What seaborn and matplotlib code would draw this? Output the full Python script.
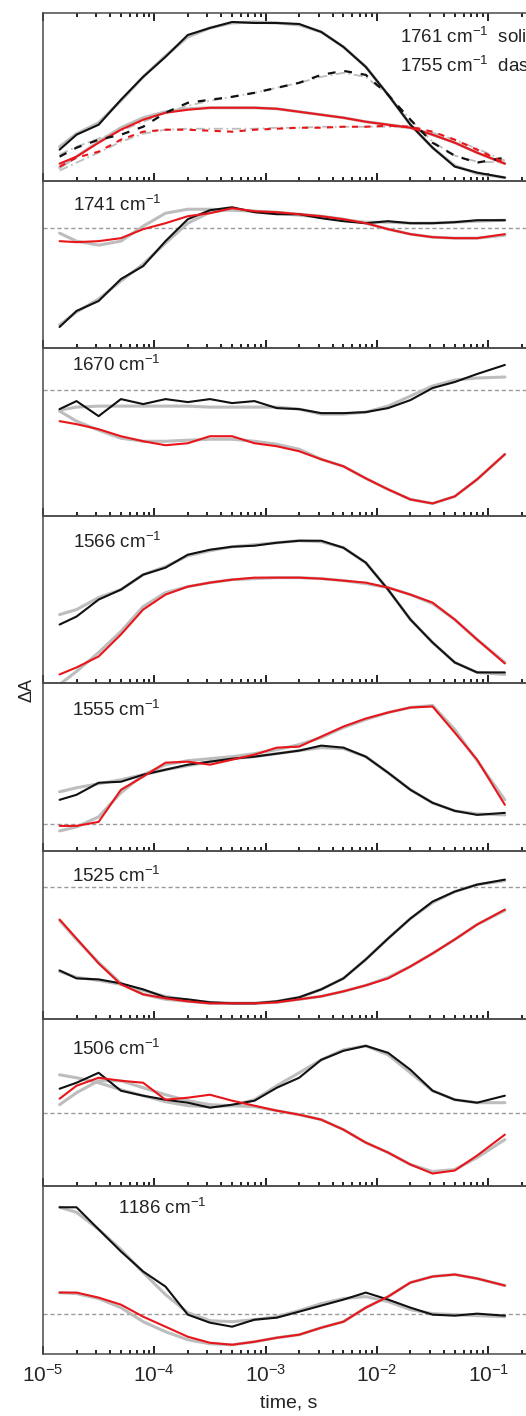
import numpy as np
import pandas as pd
import matplotlib
matplotlib.use("Agg")
import matplotlib.pyplot as plt
from matplotlib.ticker import LogLocator, NullFormatter
import seaborn as sns

# ---------------- data ----------------
TIME_S = [1.41e-5, 2.0e-5, 3.16e-5, 5.01e-5, 7.94e-5, 1.26e-4, 2.0e-4, 3.16e-4,
          5.0e-4, 7.94e-4, 1.26e-3, 2.0e-3, 3.16e-3, 5.0e-3, 7.94e-3, 1.26e-2,
          2.0e-2, 3.16e-2, 5.0e-2, 7.94e-2, 0.141]

WAVENUMBERS = ["1761", "1741", "1670", "1566", "1555", "1525", "1506", "1186"]

# panel 1 (1761 solid / 1755 dashed)
P1761_BLACK = [3.1, 4.6, 5.6, 8.1, 10.4, 12.4, 14.6, 15.3, 15.9, 15.8, 15.8, 15.7, 14.9, 13.4, 11.4, 8.6, 5.6, 3.3, 1.4, 0.8, 0.3]
P1761_BLACK_FIT = [3.4, 4.7, 5.8, 8.0, 10.4, 12.5, 14.4, 15.3, 15.8, 15.9, 15.8, 15.6, 14.9, 13.4, 11.4, 8.6, 5.6, 3.3, 1.5, 0.7, 0.3]
P1761_RED = [1.7, 2.4, 3.8, 5.1, 6.1, 6.8, 7.1, 7.3, 7.3, 7.3, 7.2, 6.9, 6.6, 6.3, 5.9, 5.6, 5.3, 4.6, 3.8, 2.8, 1.7]
P1761_RED_FIT = [1.3, 2.4, 3.9, 5.3, 6.3, 6.9, 7.2, 7.3, 7.3, 7.3, 7.2, 6.9, 6.6, 6.3, 5.9, 5.6, 5.3, 4.6, 3.8, 2.8, 1.7]
P1755_BLACK = [2.4, 3.3, 4.1, 4.6, 5.4, 6.8, 7.8, 8.1, 8.4, 8.8, 9.3, 9.8, 10.6, 11.0, 10.6, 8.6, 6.1, 3.8, 2.5, 1.8, 2.3]
P1755_BLACK_FIT = [2.6, 3.4, 4.2, 5.0, 5.9, 6.8, 7.5, 8.0, 8.4, 8.8, 9.3, 9.8, 10.4, 10.8, 10.4, 8.6, 6.1, 3.9, 2.5, 1.9, 1.8]
P1755_RED = [1.4, 2.3, 2.9, 4.1, 4.9, 5.1, 5.1, 5.0, 4.9, 5.1, 5.2, 5.3, 5.3, 5.4, 5.4, 5.5, 5.4, 4.9, 4.1, 3.1, 1.8]
P1755_RED_FIT = [1.0, 1.8, 2.8, 3.9, 4.7, 5.1, 5.2, 5.2, 5.2, 5.2, 5.3, 5.3, 5.4, 5.4, 5.4, 5.4, 5.3, 4.8, 4.1, 3.2, 2.0]

BLACK = {
    "1741": [-9.9, -8.3, -7.3, -5.1, -3.8, -1.3, 0.9, 1.8, 2.1, 1.6, 1.4, 1.4, 1.0, 0.7, 0.5, 0.7, 0.5, 0.5, 0.6, 0.8, 0.8],
    "1670": [-1.9, -1.1, -2.6, -0.9, -1.4, -0.9, -1.2, -0.9, -1.3, -1.1, -1.8, -1.9, -2.3, -2.3, -2.2, -1.8, -1.0, 0.2, 0.8, 1.6, 2.5],
    "1566": [5.9, 6.7, 8.4, 9.4, 10.9, 11.6, 12.9, 13.4, 13.7, 13.8, 14.1, 14.3, 14.3, 13.6, 12.1, 9.4, 6.4, 4.1, 2.1, 1.1, 1.1],
    "1555": [2.4, 2.9, 4.1, 4.2, 4.9, 5.4, 5.9, 6.2, 6.5, 6.7, 7.0, 7.3, 7.8, 7.6, 6.7, 5.1, 3.4, 2.1, 1.3, 0.9, 1.1],
    "1525": [-8.4, -9.2, -9.3, -9.7, -10.3, -11.1, -11.3, -11.6, -11.7, -11.7, -11.5, -11.1, -10.3, -9.2, -7.3, -5.2, -3.2, -1.5, -0.5, 0.2, 0.7],
    "1506": [2.4, 3.0, 4.0, 2.2, 1.7, 1.3, 1.0, 0.5, 0.8, 1.2, 2.5, 3.5, 5.3, 6.2, 6.7, 6.0, 4.3, 2.2, 1.3, 1.0, 1.7],
    "1186": [10.6, 10.6, 8.4, 6.2, 4.2, 2.7, -0.1, -0.9, -1.3, -0.6, -0.4, 0.2, 0.8, 1.4, 2.1, 1.4, 0.6, -0.1, -0.2, 0.0, -0.2],
}
BLACK_FIT = {
    "1741": [-9.7, -8.4, -7.1, -5.3, -3.6, -1.5, 0.5, 1.6, 1.9, 1.7, 1.5, 1.3, 1.1, 0.8, 0.6, 0.6, 0.5, 0.5, 0.6, 0.7, 0.8],
    "1670": [-2.0, -1.7, -1.6, -1.6, -1.6, -1.6, -1.6, -1.7, -1.7, -1.7, -1.7, -1.9, -2.4, -2.4, -2.2, -1.6, -0.6, 0.4, 1.0, 1.2, 1.3],
    "1566": [6.9, 7.4, 8.6, 9.4, 10.9, 11.7, 12.8, 13.3, 13.7, 13.9, 14.1, 14.3, 14.2, 13.6, 12.1, 9.4, 6.4, 4.1, 2.1, 1.1, 0.9],
    "1555": [3.2, 3.6, 4.0, 4.4, 4.9, 5.4, 5.8, 6.2, 6.5, 6.7, 7.0, 7.3, 7.6, 7.5, 6.7, 5.1, 3.4, 2.1, 1.3, 1.0, 0.9],
    "1525": [-8.5, -9.1, -9.4, -9.8, -10.4, -11.0, -11.4, -11.6, -11.7, -11.7, -11.5, -11.1, -10.3, -9.2, -7.3, -5.2, -3.2, -1.6, -0.5, 0.2, 0.6],
    "1506": [3.8, 3.5, 3.0, 2.3, 1.7, 1.1, 0.7, 0.6, 0.7, 1.3, 2.7, 4.0, 5.3, 6.3, 6.7, 5.8, 4.0, 2.2, 1.3, 1.0, 1.0],
    "1186": [10.6, 10.1, 8.4, 6.4, 4.1, 1.9, 0.1, -0.7, -0.8, -0.6, -0.3, 0.3, 1.0, 1.5, 1.7, 1.2, 0.4, 0.0, -0.1, -0.2, -0.3],
}
RED = {
    "1741": [-1.3, -1.4, -1.3, -1.0, -0.1, 0.5, 1.2, 1.5, 2.0, 1.7, 1.6, 1.4, 1.2, 0.9, 0.5, -0.1, -0.6, -0.9, -1.0, -1.0, -0.6],
    "1670": [-3.1, -3.4, -3.9, -4.6, -5.1, -5.5, -5.3, -4.6, -4.6, -5.3, -5.6, -6.1, -6.9, -7.6, -8.8, -9.9, -10.9, -11.3, -10.6, -8.9, -6.4],
    "1566": [0.9, 1.6, 2.7, 4.9, 7.4, 8.9, 9.7, 10.1, 10.4, 10.6, 10.6, 10.6, 10.5, 10.3, 10.1, 9.6, 8.9, 8.1, 6.4, 4.4, 2.0],
    "1555": [-0.2, -0.2, 0.2, 3.4, 4.7, 6.1, 6.2, 5.9, 6.4, 6.9, 7.6, 7.7, 8.7, 9.7, 10.5, 11.1, 11.6, 11.7, 9.1, 6.4, 1.9],
    "1525": [-3.3, -5.2, -7.7, -9.8, -10.8, -11.2, -11.5, -11.7, -11.7, -11.7, -11.6, -11.3, -11.0, -10.5, -9.9, -9.2, -8.0, -6.7, -5.3, -3.8, -2.3],
    "1506": [1.4, 2.7, 3.5, 3.2, 3.0, 1.3, 1.5, 1.8, 1.2, 0.7, 0.2, -0.2, -0.7, -1.7, -3.0, -4.0, -5.2, -6.1, -5.8, -4.3, -2.2],
    "1186": [2.1, 2.1, 1.6, 0.9, -0.3, -1.3, -2.3, -2.9, -3.1, -2.8, -2.4, -2.1, -1.4, -0.8, 0.6, 1.7, 3.1, 3.7, 3.9, 3.5, 2.8],
}
RED_FIT = {
    "1741": [-0.5, -1.3, -1.7, -1.3, 0.2, 1.5, 1.9, 1.9, 1.8, 1.7, 1.6, 1.4, 1.2, 0.9, 0.5, -0.1, -0.6, -0.9, -1.0, -1.0, -0.7],
    "1670": [-2.1, -3.1, -4.0, -4.8, -5.1, -5.1, -5.0, -4.9, -4.9, -5.1, -5.4, -5.9, -6.9, -7.6, -8.8, -9.9, -10.9, -11.3, -10.6, -8.9, -6.4],
    "1566": [-0.1, 1.2, 3.1, 5.2, 7.7, 9.1, 9.7, 10.1, 10.4, 10.5, 10.6, 10.6, 10.5, 10.3, 10.0, 9.6, 8.9, 8.0, 6.4, 4.4, 2.1],
    "1555": [-0.7, -0.3, 0.7, 3.1, 4.9, 5.9, 6.3, 6.5, 6.7, 7.0, 7.4, 7.9, 8.6, 9.6, 10.4, 11.1, 11.6, 11.8, 9.4, 6.3, 2.4],
    "1525": [-3.4, -5.3, -7.6, -9.7, -10.8, -11.3, -11.5, -11.7, -11.7, -11.7, -11.6, -11.3, -11.0, -10.5, -9.9, -9.1, -8.0, -6.7, -5.3, -3.8, -2.4],
    "1506": [0.8, 2.0, 3.2, 3.2, 2.5, 1.8, 1.2, 0.8, 0.7, 0.6, 0.2, -0.2, -0.7, -1.7, -3.0, -4.0, -5.2, -5.9, -5.7, -4.5, -2.7],
    "1186": [2.1, 2.0, 1.5, 0.6, -0.8, -1.8, -2.6, -3.0, -3.1, -2.8, -2.4, -2.1, -1.4, -0.8, 0.6, 1.7, 3.1, 3.7, 3.9, 3.5, 2.8],
}

# y ranges of each panel (arbitrary ΔA units) and whether a zero line is drawn
Y_RANGES = [(0.0, 16.8), (-12.03, 4.77), (-12.53, 4.17), (0.0, 16.8),
            (-2.7, 14.0), (-13.23, 3.57), (-7.37, 9.43), (-4.0, 12.7)]
ZERO_LINE = [False, True, True, False, True, True, True, True]

X_TICK_LABELS = ["$10^{-5}$", "$10^{-4}$", "$10^{-3}$", "$10^{-2}$", "$10^{-1}$"]
X_TICKS = [1e-5, 1e-4, 1e-3, 1e-2, 1e-1]

# ---------------- style ----------------
sns.set_style("white")
plt.rcParams["font.family"] = ["Liberation Sans", "DejaVu Sans"]
plt.rcParams["mathtext.default"] = "regular"

RED_C = "#e8161b"
BLACK_C = "#111111"
GRAY_C = "#bdbdbd"
SPINE_C = "#4a4a4a"

W, H = 526, 1416
fig = plt.figure(figsize=(W / 100, H / 100), dpi=100)

left_px, right_px = 43, 535
top_px, panel_h = 13, 167.6

label_pos = [None, (73, 30), (72, 23), (73, 32), (72, 33), (72, 31), (72, 36), (118, 28)]


def line(ax, y, color, lw, dashes=None, zorder=2):
    df = pd.DataFrame({"t": TIME_S, "v": y})
    sns.lineplot(data=df, x="t", y="v", ax=ax, color=color, linewidth=lw,
                 estimator=None, sort=False, zorder=zorder, legend=False)
    ln = ax.get_lines()[-1]
    if dashes is not None:
        ln.set_dashes(dashes)
    return ln


for i, wn in enumerate(WAVENUMBERS):
    bottom = 1 - (top_px + (i + 1) * panel_h) / H
    ax = fig.add_axes([left_px / W, bottom, (right_px - left_px) / W, panel_h / H])
    ax.set_xscale("log")
    ax.set_xlim(1e-5, 10 ** -0.58)
    ax.set_ylim(*Y_RANGES[i])

    if ZERO_LINE[i]:
        ax.axhline(0, color="#9a9a9a", lw=1.0, dashes=(3, 2), zorder=0)

    if i == 0:
        line(ax, P1761_BLACK_FIT, GRAY_C, 2.2, zorder=1)
        line(ax, P1761_RED_FIT, GRAY_C, 2.2, zorder=1)
        line(ax, P1755_BLACK_FIT, GRAY_C, 1.3, dashes=(5, 2, 1, 2), zorder=1)
        line(ax, P1755_RED_FIT, GRAY_C, 1.3, dashes=(5, 2, 1, 2), zorder=1)
        line(ax, P1761_BLACK, BLACK_C, 1.5, zorder=3)
        line(ax, P1761_RED, RED_C, 1.5, zorder=3)
        line(ax, P1755_BLACK, BLACK_C, 1.6, dashes=(3.5, 4), zorder=3)
        line(ax, P1755_RED, RED_C, 1.5, dashes=(3, 3), zorder=3)
        ax.text(0.726, 1 - 30 / panel_h, "1761 cm$^{-1}$  solid", transform=ax.transAxes,
                fontsize=13.5, va="baseline", ha="left", color="#222222")
        ax.text(0.726, 1 - 59 / panel_h, "1755 cm$^{-1}$  dashed", transform=ax.transAxes,
                fontsize=13.5, va="baseline", ha="left", color="#222222")
    else:
        line(ax, BLACK_FIT[wn], GRAY_C, 2.2, zorder=1)
        line(ax, RED_FIT[wn], GRAY_C, 2.2, zorder=1)
        line(ax, BLACK[wn], BLACK_C, 1.5, zorder=3)
        line(ax, RED[wn], RED_C, 1.5, zorder=3)
        lx, ly = label_pos[i]
        ax.text((lx - left_px) / (right_px - left_px), 1 - ly / panel_h,
                wn + " cm$^{-1}$", transform=ax.transAxes, fontsize=13.5,
                va="baseline", ha="left", color="#222222")

    ax.set_xlabel("")
    ax.set_ylabel("")
    ax.set_yticks([])
    ax.xaxis.set_minor_locator(LogLocator(base=10, subs=np.arange(2, 10), numticks=20))
    ax.xaxis.set_minor_formatter(NullFormatter())
    ax.set_xticks(X_TICKS)
    if i == len(WAVENUMBERS) - 1:
        ax.set_xticklabels(X_TICK_LABELS, fontsize=15)
    else:
        ax.set_xticklabels([])
    ax.tick_params(axis="x", which="major", direction="in", length=5.5, width=1.3,
                   color="#111111", top=(i == 0), bottom=True, pad=7)
    ax.tick_params(axis="x", which="minor", direction="in", length=3, width=1.3,
                   color="#111111", top=(i == 0), bottom=True)
    ax.set_xlim(1e-5, 10 ** -0.58)
    for s in ax.spines.values():
        s.set_color(SPINE_C)
        s.set_linewidth(1.1)
    ax.patch.set_alpha(0)

fig.text(27 / W, 1 - 690 / H, "ΔA", rotation=90, fontsize=13, ha="center", va="center",
         color="#222222")
fig.text(289 / W, 1 - 1408 / H, "time, s", fontsize=14, ha="center", va="baseline",
         color="#222222")

fig.savefig("out.png", dpi=100)
